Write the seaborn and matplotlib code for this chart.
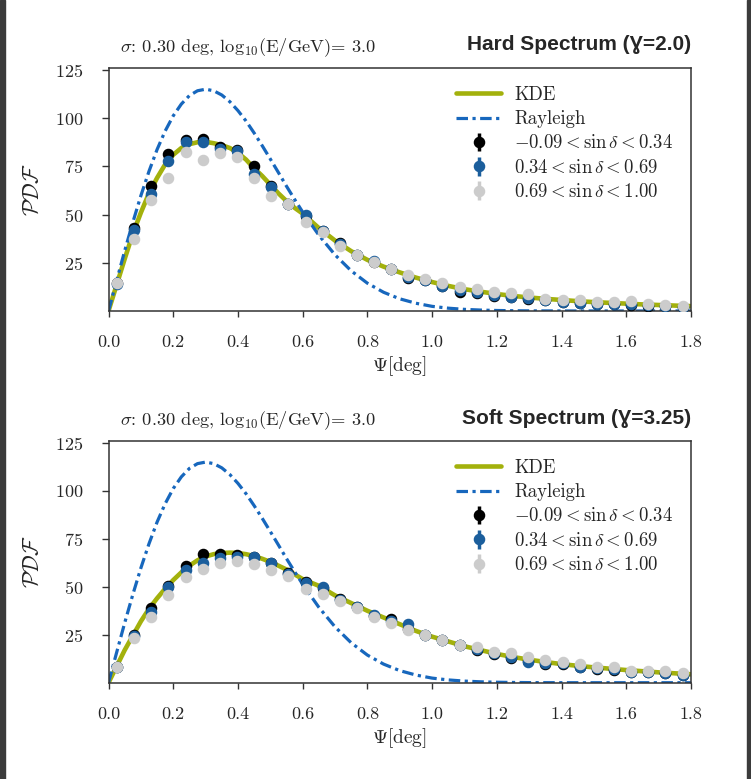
import seaborn as sns
import matplotlib.pyplot as plt
from matplotlib.patches import Rectangle

sns.set_style("ticks")
plt.rcParams["font.family"] = "serif"
plt.rcParams["font.serif"] = ["cmr10", "DejaVu Serif"]
plt.rcParams["mathtext.fontset"] = "cm"
plt.rcParams["axes.formatter.use_mathtext"] = True

# bin centres of the measured points (deg)
psi_bins = [0.026, 0.079, 0.132, 0.185, 0.238, 0.291, 0.344, 0.397, 0.450, 0.503,
            0.556, 0.609, 0.662, 0.715, 0.768, 0.821, 0.874, 0.926, 0.979, 1.032,
            1.085, 1.138, 1.191, 1.244, 1.297, 1.350, 1.403, 1.456, 1.509, 1.562,
            1.615, 1.668, 1.721, 1.774]

# curve sample positions (deg)
psi_curve = [0.0, 0.025, 0.05, 0.075, 0.1, 0.125, 0.15, 0.175, 0.2, 0.225, 0.25,
             0.275, 0.3, 0.325, 0.35, 0.375, 0.4, 0.425, 0.45, 0.475, 0.5, 0.525,
             0.55, 0.575, 0.6, 0.65, 0.7, 0.75, 0.8, 0.85, 0.9, 0.95, 1.0, 1.05,
             1.1, 1.15, 1.2, 1.25, 1.3, 1.35, 1.4, 1.45, 1.5, 1.55, 1.6, 1.65,
             1.7, 1.75, 1.8]

rayleigh = [0.0, 15.7, 31.2, 45.9, 59.8, 72.4, 83.7, 93.3, 101.2, 107.3, 111.7,
            114.2, 115.0, 114.2, 112.0, 108.5, 103.9, 98.5, 92.3, 85.7, 78.8, 71.8,
            64.7, 57.9, 51.3, 39.3, 29.1, 20.8, 14.4, 9.7, 6.3, 4.0, 2.4, 1.45,
            0.84, 0.47, 0.25, 0.13, 0.06, 0.03, 0.01, 0.0, 0.0, 0.0, 0.0, 0.0,
            0.0, 0.0, 0.0]

kde_hard = [0.0, 13.5, 27.0, 40.0, 51.0, 61.0, 69.0, 76.0, 81.0, 84.5, 86.5,
            87.5, 87.7, 87.0, 86.0, 84.5, 82.0, 78.5, 74.0, 70.0, 65.5, 61.0,
            57.0, 53.5, 50.5, 43.0, 36.5, 31.0, 26.5, 23.0, 20.0, 17.3, 15.0, 13.0,
            11.3, 10.0, 8.8, 7.8, 7.0, 6.3, 5.7, 5.1, 4.6, 4.2, 3.8, 3.4,
            3.1, 2.8, 2.5]

kde_soft = [0.0, 8.5, 17.0, 24.5, 32.0, 38.5, 44.0, 49.0, 53.5, 57.5, 61.0,
            63.8, 65.8, 67.0, 67.6, 67.8, 67.6, 67.0, 66.0, 64.6, 63.0, 61.0,
            59.0, 56.5, 54.0, 50.5, 45.5, 41.5, 37.5, 34.0, 30.5, 27.0, 24.0, 21.5,
            19.0, 17.0, 15.0, 13.4, 12.0, 10.8, 9.7, 8.8, 8.0, 7.3, 6.6, 6.0,
            5.4, 4.9, 4.4]

hard_low = [14.3, 43.2, 64.9, 81.2, 88.6, 89.1, 84.8, 83.4, 75.1, 64.6, 55.4, 49.0,
            41.4, 35.0, 29.0, 25.6, 21.6, 16.9, 16.1, 13.0, 10.0, 9.5, 8.0, 7.0,
            6.3, 5.5, 4.6, 4.0, 3.5, 3.4, 3.2, 2.8, 2.5, 2.2]
hard_mid = [14.0, 42.0, 60.6, 77.9, 87.4, 87.7, 83.8, 83.0, 71.0, 64.4, 55.4, 49.7,
            41.4, 34.5, 29.0, 25.9, 21.6, 17.4, 16.1, 13.0, 10.8, 9.8, 8.3, 7.1,
            6.6, 5.7, 4.8, 4.3, 3.6, 3.6, 3.4, 3.0, 2.7, 2.2]
hard_high = [14.3, 37.3, 57.5, 69.1, 82.5, 78.2, 81.7, 80.0, 68.8, 59.7, 55.4, 46.3,
             41.0, 33.7, 29.0, 25.2, 21.6, 18.7, 16.6, 14.3, 12.3, 11.2, 9.7, 9.2,
             8.6, 6.2, 5.7, 5.5, 4.8, 4.8, 5.0, 3.6, 3.3, 2.8]

soft_low = [8.0, 24.9, 38.8, 50.6, 61.0, 67.0, 67.0, 66.6, 65.7, 62.3, 57.1, 52.7,
            49.2, 43.5, 39.6, 35.0, 33.2, 28.0, 24.9, 22.3, 19.7, 17.0, 15.0, 12.7,
            11.5, 10.0, 9.8, 8.0, 7.3, 6.8, 5.6, 5.6, 5.0, 3.9]
soft_mid = [8.2, 24.5, 37.0, 50.0, 58.8, 62.6, 64.9, 65.4, 65.4, 62.3, 56.7, 52.2,
            50.1, 43.3, 39.6, 35.3, 32.0, 30.5, 24.9, 22.3, 19.7, 17.7, 15.4, 13.5,
            11.0, 10.1, 10.1, 8.3, 7.5, 7.0, 5.8, 5.8, 5.2, 4.0]
soft_high = [8.0, 23.2, 34.4, 45.7, 55.3, 59.2, 62.3, 63.6, 61.8, 58.8, 55.8, 48.7,
             46.3, 42.6, 39.1, 34.1, 31.0, 27.5, 24.9, 22.3, 19.7, 18.5, 15.9, 15.3,
             13.6, 11.8, 10.7, 9.6, 8.3, 8.3, 6.3, 6.3, 5.9, 4.9]

point_err = 1.5

band_labels = [r"$-0.09 < \sin\delta < 0.34$",
               r"$0.34 < \sin\delta < 0.69$",
               r"$0.69 < \sin\delta < 1.00$"]
band_colors = ["#000000", "#1b5e9c", "#cccccc"]

panels = [
    ("Hard Spectrum (Ɣ=2.0)", kde_hard, [hard_low, hard_mid, hard_high]),
    ("Soft Spectrum (Ɣ=3.25)", kde_soft, [soft_low, soft_mid, soft_high]),
]

fig = plt.figure(figsize=(7.51, 7.79), dpi=100)
axes = [fig.add_axes([0.1445, 0.6008, 0.7756, 0.3119]),
        fig.add_axes([0.1445, 0.1236, 0.7756, 0.3103])]

for ax, (title, kde, bands) in zip(axes, panels):
    sns.lineplot(x=psi_curve, y=kde, color="#a3b10c", lw=3.3, label="KDE",
                 ax=ax, zorder=2)
    sns.lineplot(x=psi_curve, y=rayleigh, color="#1767bd", lw=2.3, label="Rayleigh",
                 ax=ax, zorder=2, dashes=False)
    ax.lines[-1].set_dashes([3.6, 1.4, 1.0, 1.4])
    for vals, lab, col in zip(bands, band_labels, band_colors):
        ax.errorbar(psi_bins, vals, yerr=point_err, fmt="o", color=col, ms=7.3,
                    elinewidth=2.5, capsize=0, label=lab, zorder=3)

    ax.set_xlim(0, 1.8)
    ax.set_ylim(0, 126)
    ax.set_xticks([0.0, 0.2, 0.4, 0.6, 0.8, 1.0, 1.2, 1.4, 1.6, 1.8])
    ax.set_xticklabels(["0.0", "0.2", "0.4", "0.6", "0.8", "1.0", "1.2", "1.4", "1.6", "1.8"])
    ax.set_yticks([25, 50, 75, 100, 125])
    ax.tick_params(axis="both", direction="out", labelsize=13, color="#333333")
    ax.tick_params(axis="y", length=5, width=1, pad=13)
    ax.tick_params(axis="x", length=4, width=1, pad=13)
    for sp in ax.spines.values():
        sp.set_visible(True)
        sp.set_color("#333333")
        sp.set_linewidth(1.1)

    ax.set_xlabel(r"$\Psi$[deg]", fontsize=14, labelpad=3)
    ax.set_ylabel(r"$\mathcal{PDF}$", fontsize=16, labelpad=9)

    ax.text(0.02, 1.085, r"$\sigma$: 0.30 deg, $\mathrm{log}_{10}$(E/GeV)= 3.0",
            transform=ax.transAxes, ha="left", va="center", fontsize=13.3)
    ax.text(1.0, 1.095, title, transform=ax.transAxes, ha="right", va="center",
            fontsize=15, fontweight="bold", family=["Liberation Sans", "DejaVu Sans"])

    ax.legend(loc="upper right", frameon=False, fontsize=13.5, handlelength=2.4,
              labelspacing=0.34, handletextpad=0.7, borderaxespad=0.55)

# dark page edges from the original screenshot
fig.patches.append(Rectangle((0, 0), 5 / 751, 1, transform=fig.transFigure,
                             color="#3b3b3b", zorder=0))
fig.patches.append(Rectangle((746.5 / 751, 0), 4.5 / 751, 1, transform=fig.transFigure,
                             color="#3b3b3b", zorder=0))

plt.savefig("out.png", dpi=100)
plt.close(fig)
